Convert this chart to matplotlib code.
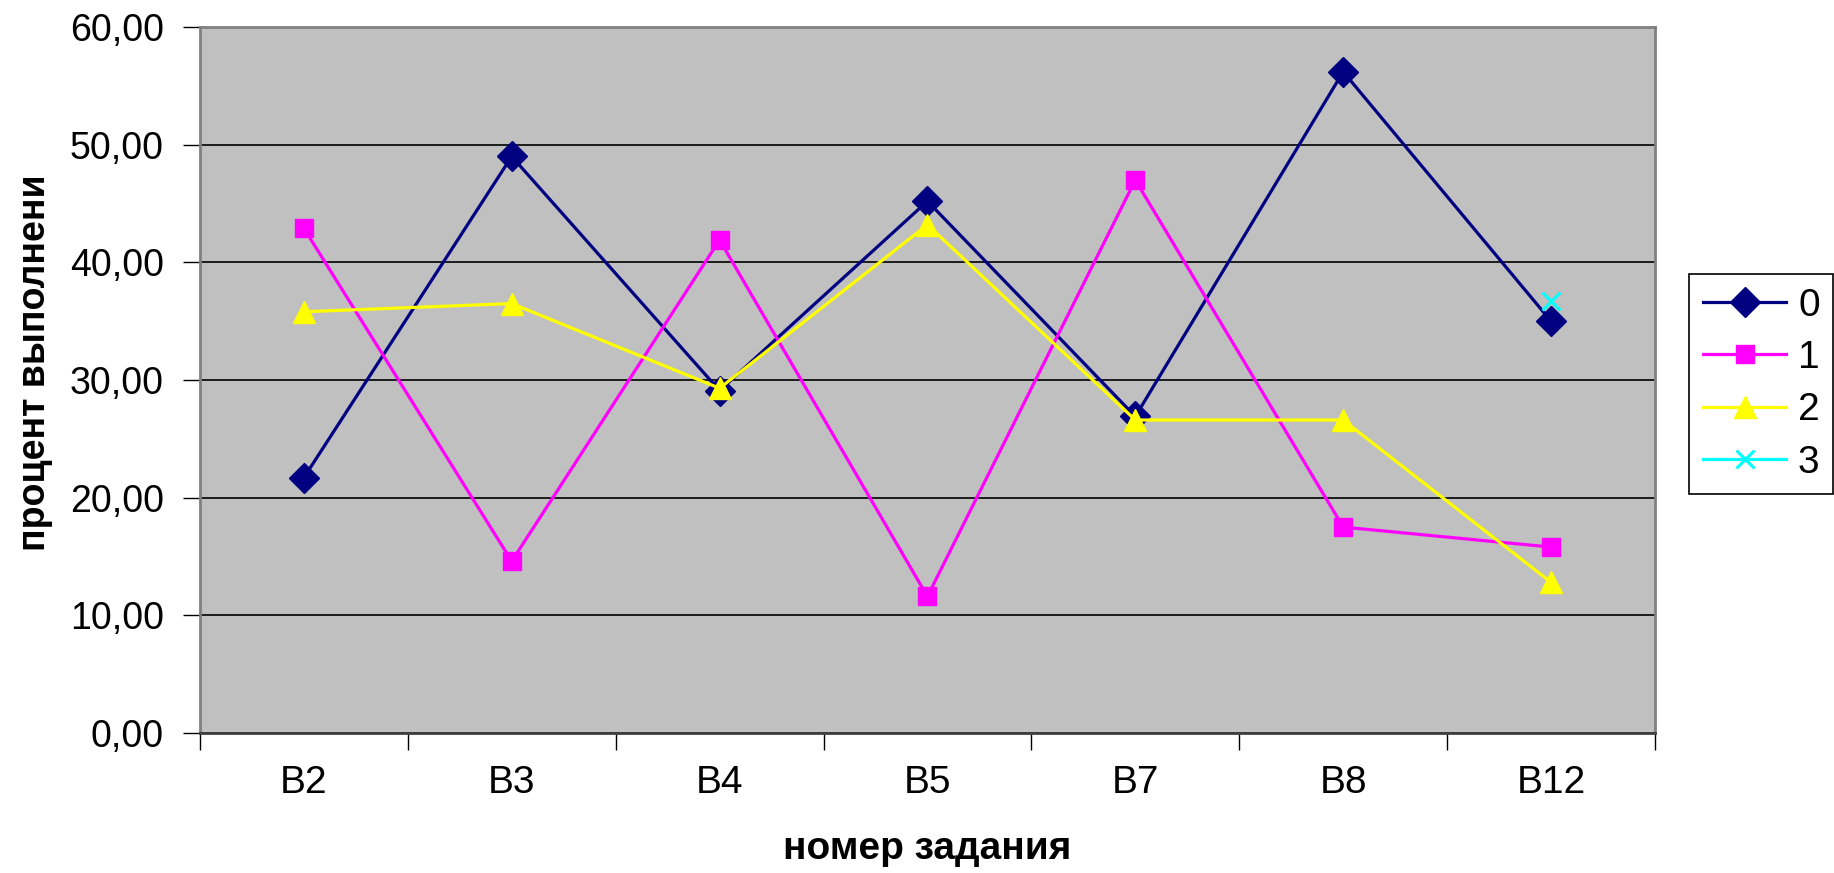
import matplotlib
matplotlib.use("Agg")
import matplotlib.pyplot as plt
import numpy as np

plt.rcParams['font.family'] = ['Liberation Sans', 'DejaVu Sans']

categories = ["B2", "B3", "B4", "B5", "B7", "B8", "B12"]
s0 = [21.7, 49.0, 29.1, 45.2, 26.9, 56.2, 35.0]
s1 = [42.9, 14.6, 41.9, 11.6, 47.0, 17.5, 15.8]
s2 = [35.8, 36.5, 29.3, 43.2, 26.6, 26.6, 12.8]
s3 = [np.nan, np.nan, np.nan, np.nan, np.nan, np.nan, 36.7]

fig = plt.figure(figsize=(18.34, 8.73), dpi=100)
ax = fig.add_axes([0.109, 0.1604, 0.7934, 0.8086])
ax.set_facecolor('#C0C0C0')

x = np.arange(len(categories))
ax.plot(x, s0, color='#000080', lw=2.3, marker='D', ms=15, label='0')
ax.plot(x, s1, color='#FF00FF', lw=2.3, marker='s', ms=12.5, label='1')
ax.plot(x, s2, color='#FFFF00', lw=2.3, marker='^', ms=16, label='2')
ax.plot(x, s3, color='#00FFFF', lw=2.3, marker='x', ms=13, mew=2.2, label='3')

ax.set_xlim(-0.5, len(categories) - 0.5)
ax.set_ylim(0, 60)
ax.set_yticks(np.arange(0, 61, 10))
ax.set_yticklabels([f"{v:.2f}".replace('.', ',') for v in np.arange(0, 61, 10)])
ax.yaxis.grid(True, color='black', lw=1.2)
ax.set_axisbelow(True)

# tick marks sit between categories, labels in the middle
ax.set_xticks(np.arange(-0.5, len(categories), 1.0))
ax.set_xticklabels([])
ax.set_xticks(x, minor=True)
ax.set_xticklabels(categories, minor=True)
ax.tick_params(axis='x', which='minor', length=0, pad=23, labelsize=28)
ax.tick_params(axis='x', which='major', length=12, width=1, direction='out')
ax.tick_params(axis='y', length=12, width=1, direction='out', labelsize=27, pad=14)

for side in ['left', 'top', 'right']:
    ax.spines[side].set_color('#808080')
    ax.spines[side].set_linewidth(2)
ax.spines['bottom'].set_color('#404040')
ax.spines['bottom'].set_linewidth(2)

ax.set_xlabel('номер задания', fontsize=28, fontweight='bold', va='center')
ax.xaxis.set_label_coords(0.5, -0.164)
ax.set_ylabel('процент выполнени', fontsize=27, fontweight='bold', va='center')
ax.yaxis.set_label_coords(-0.113, 0.525)

leg = fig.legend(loc='center left', bbox_to_anchor=(0.921, 0.560), fontsize=28,
                 frameon=True, fancybox=False, edgecolor='black', framealpha=1,
                 handlelength=2.15, labelspacing=0.42, borderpad=0.35,
                 handletextpad=0.3, borderaxespad=0)
leg.get_frame().set_linewidth(1.2)

fig.savefig('out.png', dpi=100)
